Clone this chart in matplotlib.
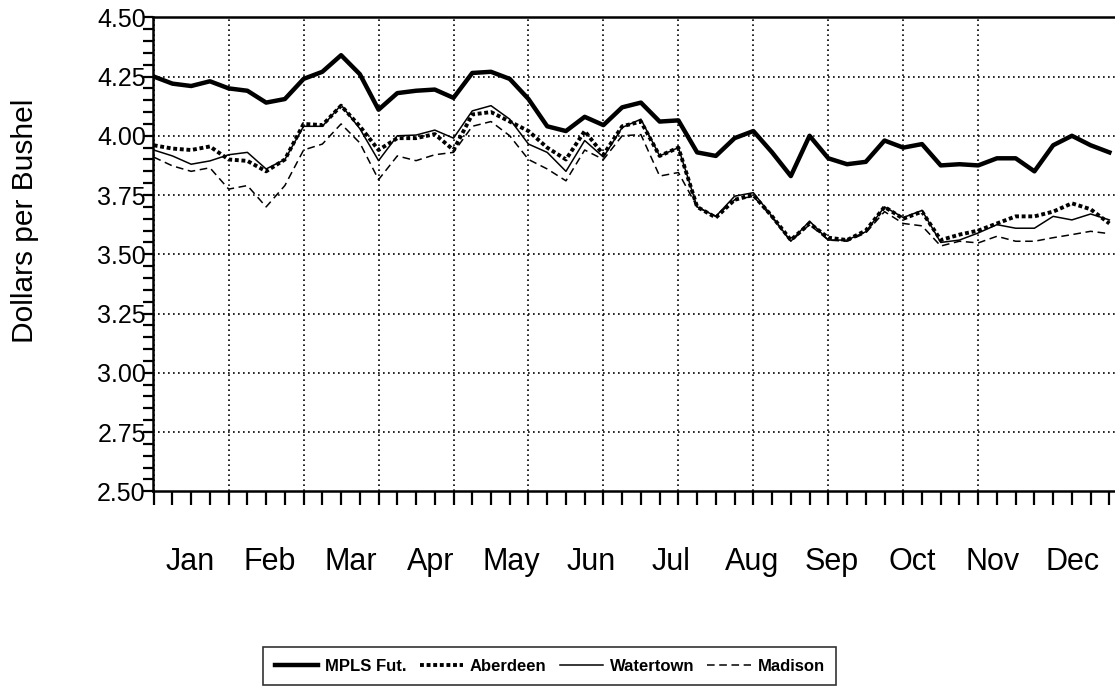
import matplotlib
matplotlib.use("Agg")
import matplotlib.pyplot as plt
import numpy as np

plt.rcParams['font.family'] = ['Liberation Sans', 'DejaVu Sans']

# weekly prices, week 0 = first week of Jan
weeks = np.arange(52)
months = ['Jan', 'Feb', 'Mar', 'Apr', 'May', 'Jun',
          'Jul', 'Aug', 'Sep', 'Oct', 'Nov', 'Dec']

mpls_fut = [4.25, 4.22, 4.21, 4.23, 4.20, 4.19, 4.14, 4.155, 4.24, 4.27,
            4.34, 4.26, 4.11, 4.18, 4.19, 4.195, 4.16, 4.265, 4.27, 4.24,
            4.155, 4.04, 4.02, 4.08, 4.045, 4.12, 4.14, 4.06, 4.065, 3.93,
            3.915, 3.99, 4.02, 3.93, 3.83, 4.00, 3.905, 3.88, 3.89, 3.98,
            3.95, 3.965, 3.875, 3.88, 3.875, 3.905, 3.905, 3.85, 3.96, 4.00,
            3.96, 3.93]
aberdeen = [3.96, 3.946, 3.94, 3.955, 3.90, 3.894, 3.85, 3.90, 4.05, 4.045,
            4.127, 4.04, 3.94, 3.99, 3.99, 4.007, 3.94, 4.09, 4.10, 4.06,
            4.02, 3.95, 3.90, 4.02, 3.92, 4.04, 4.06, 3.915, 3.95, 3.70,
            3.655, 3.73, 3.75, 3.66, 3.56, 3.63, 3.57, 3.56, 3.60, 3.70,
            3.65, 3.68, 3.56, 3.583, 3.60, 3.63, 3.66, 3.66, 3.68, 3.715,
            3.69, 3.63]
watertown = [3.94, 3.915, 3.88, 3.894, 3.92, 3.93, 3.86, 3.90, 4.04, 4.04,
             4.13, 4.03, 3.895, 4.00, 4.003, 4.024, 3.99, 4.105, 4.127, 4.07,
             3.965, 3.93, 3.85, 3.98, 3.91, 4.035, 4.07, 3.915, 3.95, 3.70,
             3.66, 3.745, 3.76, 3.66, 3.555, 3.64, 3.56, 3.56, 3.595, 3.70,
             3.655, 3.685, 3.55, 3.56, 3.59, 3.625, 3.61, 3.61, 3.66, 3.645,
             3.67, 3.645]
madison = [3.91, 3.873, 3.85, 3.865, 3.775, 3.79, 3.70, 3.79, 3.94, 3.965,
           4.05, 3.97, 3.815, 3.915, 3.895, 3.92, 3.93, 4.04, 4.06, 4.00,
           3.90, 3.86, 3.81, 3.94, 3.90, 4.00, 4.005, 3.83, 3.845, 3.70,
           3.66, 3.73, 3.745, 3.655, 3.555, 3.625, 3.56, 3.555, 3.59, 3.68,
           3.63, 3.62, 3.535, 3.555, 3.548, 3.576, 3.555, 3.555, 3.57, 3.583,
           3.597, 3.587]

fig = plt.figure(figsize=(11.15, 6.91), dpi=100)
ax = fig.add_axes([0.137, 0.289, 0.863, 0.686])

# grid: month boundaries and quarter-dollar levels
for m in range(12):
    ax.axvline(m * 4, color='black', lw=1.2, ls=(0, (1, 2)), zorder=1)
for yv in np.arange(2.75, 4.51, 0.25):
    ax.axhline(yv, color='black', lw=1.2, ls=(0, (1, 2)), zorder=1)

l1, = ax.plot(weeks, mpls_fut, color='black', lw=3.2, solid_joinstyle='round', label='MPLS Fut.')
l2, = ax.plot(weeks, aberdeen, color='black', lw=2.8, ls=(0, (1, 0.7)), label='Aberdeen')
l3, = ax.plot(weeks, watertown, color='black', lw=1.1, label='Watertown')
l4, = ax.plot(weeks, madison, color='black', lw=1.1, ls=(0, (5, 3)), label='Madison')

ax.set_xlim(-0.05, 51.3)
ax.set_ylim(2.5, 4.5)

ax.set_yticks(np.arange(2.5, 4.51, 0.25))
ax.set_yticklabels(['%.2f' % v for v in np.arange(2.5, 4.51, 0.25)], fontsize=18)
ax.set_yticks(np.arange(2.5, 4.51, 0.05), minor=True)
ax.tick_params(axis='y', which='major', direction='out', length=7, width=1.6, pad=-2)
ax.tick_params(axis='y', which='minor', direction='out', length=7, width=1.6)

# weeks as minor ticks; month names spread evenly under the axis
ax.xaxis.remove_overlapping_locs = False
ax.set_xticks(weeks, minor=True)
ax.set_xticks(np.linspace(1.93, 49.05, 12))
ax.set_xticklabels(months, fontsize=22)
ax.tick_params(axis='x', which='minor', direction='out', length=10, width=1.6)
ax.tick_params(axis='x', which='major', length=0, pad=40)

ax.spines['right'].set_visible(False)
for s in ['left', 'bottom', 'top']:
    ax.spines[s].set_linewidth(1.8)

ax.set_ylabel('Dollars per Bushel', fontsize=21.5)
ax.yaxis.set_label_coords(-0.118, 0.57)

leg = fig.legend(handles=[l1, l2, l3, l4], loc='center', bbox_to_anchor=(0.493, 0.036),
                 ncol=4, frameon=True, fancybox=False, handlelength=2.6,
                 handletextpad=0.4, columnspacing=0.8, borderpad=0.7,
                 prop={'size': 12, 'weight': 'bold'})
leg.get_frame().set_edgecolor('black')
leg.get_frame().set_linewidth(1.2)

fig.savefig('out.png', dpi=100)
